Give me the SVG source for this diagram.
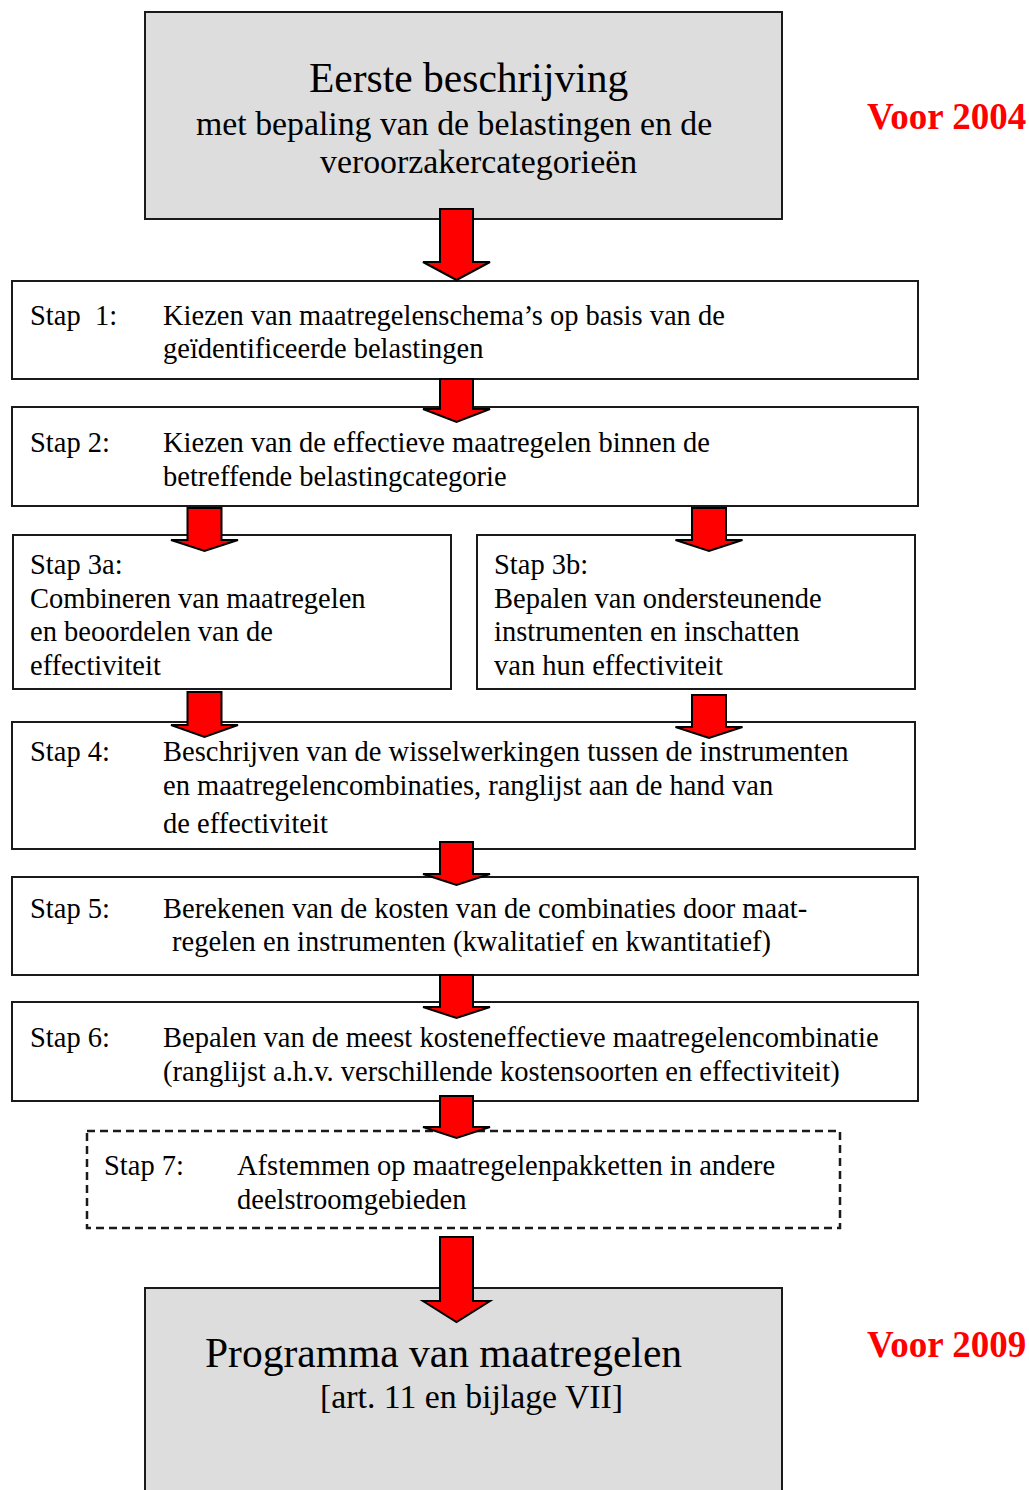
<svg xmlns="http://www.w3.org/2000/svg" width="1029" height="1490" viewBox="0 0 1029 1490">
<style>
.grey{fill:#dddddd;stroke:#1a1a1a;stroke-width:2}
.box{fill:#ffffff;stroke:#1a1a1a;stroke-width:2}
.dash{fill:#ffffff;stroke:#1a1a1a;stroke-width:2.5;stroke-dasharray:8,5}
.arr{fill:#ff0000;stroke:#000000;stroke-width:2;stroke-linejoin:miter}
text{font-family:"Liberation Serif","Times New Roman",serif;fill:#000000}
.st{font-size:28.5px}
.big{font-size:41.5px}
.mid{font-size:33.8px}
.date{font-size:37px;font-weight:bold;fill:#ff0000}
</style>
<rect width="1029" height="1490" fill="#ffffff"/>
<g id="node-top">
<rect class="grey" x="145" y="12" width="637" height="207"/>
<text class="big" x="309" y="92">Eerste beschrijving</text>
<text class="mid" x="196" y="135">met bepaling van de belastingen en de</text>
<text class="mid" x="320" y="173">veroorzakercategorieën</text>
</g>
<g id="label-2004"><text class="date" x="867" y="129">Voor 2004</text></g>
<g id="node-stap1">
<rect class="box" x="12" y="281" width="906" height="98"/>
<text class="st" x="30" y="325">Stap</text>
<text class="st" x="95" y="325">1:</text>
<text class="st" x="163" y="325">Kiezen van maatregelenschema’s op basis van de</text>
<text class="st" x="163" y="358">geïdentificeerde belastingen</text>
</g>
<g id="node-stap2">
<rect class="box" x="12" y="407" width="906" height="99"/>
<text class="st" x="30" y="452">Stap 2:</text>
<text class="st" x="163" y="452">Kiezen van de effectieve maatregelen binnen de</text>
<text class="st" x="163" y="486">betreffende belastingcategorie</text>
</g>
<g id="node-stap3a">
<rect class="box" x="13" y="535" width="438" height="154"/>
<text class="st" x="30" y="574">Stap 3a:</text>
<text class="st" x="30" y="608">Combineren van maatregelen</text>
<text class="st" x="30" y="641">en beoordelen van de</text>
<text class="st" x="30" y="675">effectiviteit</text>
</g>
<g id="node-stap3b">
<rect class="box" x="477" y="535" width="438" height="154"/>
<text class="st" x="494" y="574">Stap 3b:</text>
<text class="st" x="494" y="608">Bepalen van ondersteunende</text>
<text class="st" x="494" y="641">instrumenten en inschatten</text>
<text class="st" x="494" y="675">van hun effectiviteit</text>
</g>
<g id="node-stap4">
<rect class="box" x="12" y="722" width="903" height="127"/>
<text class="st" x="30" y="761">Stap 4:</text>
<text class="st" x="163" y="761">Beschrijven van de wisselwerkingen tussen de instrumenten</text>
<text class="st" x="163" y="795">en maatregelencombinaties, ranglijst aan de hand van</text>
<text class="st" x="163" y="833">de effectiviteit</text>
</g>
<g id="node-stap5">
<rect class="box" x="12" y="877" width="906" height="98"/>
<text class="st" x="30" y="918">Stap 5:</text>
<text class="st" x="163" y="918">Berekenen van de kosten van de combinaties door maat-</text>
<text class="st" x="172" y="951">regelen en instrumenten (kwalitatief en kwantitatief)</text>
</g>
<g id="node-stap6">
<rect class="box" x="12" y="1002" width="906" height="99"/>
<text class="st" x="30" y="1047">Stap 6:</text>
<text class="st" x="163" y="1047">Bepalen van de meest kosteneffectieve maatregelencombinatie</text>
<text class="st" x="163" y="1081">(ranglijst a.h.v. verschillende kostensoorten en effectiviteit)</text>
</g>
<g id="node-stap7">
<rect class="dash" x="87" y="1131" width="753" height="97"/>
<text class="st" x="104" y="1175">Stap 7:</text>
<text class="st" x="237" y="1175">Afstemmen op maatregelenpakketten in andere</text>
<text class="st" x="237" y="1209">deelstroomgebieden</text>
</g>
<g id="node-bottom">
<rect class="grey" x="145" y="1288" width="637" height="220"/>
<text class="big" x="205" y="1367">Programma van maatregelen</text>
<text class="mid" x="320" y="1408">[art. 11 en bijlage VII]</text>
</g>
<g id="label-2009"><text class="date" x="867" y="1357">Voor 2009</text></g>
<g id="connectors">
<polygon class="arr" points="440,209 473,209 473,262 490,262 456.5,280 423,262 440,262"/>
<polygon class="arr" points="440,379 473,379 473,409 490,409 456.5,422 423,409 440,409"/>
<polygon class="arr" points="187.5,508 221.5,508 221.5,540 238,540 204.5,551 171,540 187.5,540"/>
<polygon class="arr" points="692,508 726,508 726,540 742.5,540 709,551 675.5,540 692,540"/>
<polygon class="arr" points="187.5,692 221.5,692 221.5,725 238,725 204.5,737 171,725 187.5,725"/>
<polygon class="arr" points="692,695 726,695 726,727 742.5,727 709,738 675.5,727 692,727"/>
<polygon class="arr" points="440,842 473,842 473,874 490,874 456.5,885 423,874 440,874"/>
<polygon class="arr" points="440,975 473,975 473,1007 490,1007 456.5,1018 423,1007 440,1007"/>
<polygon class="arr" points="440,1096 473,1096 473,1127 490,1127 456.5,1138 423,1127 440,1127"/>
<polygon class="arr" points="440,1237 473,1237 473,1301 490,1301 456.5,1322 423,1301 440,1301"/>
</g>
</svg>
